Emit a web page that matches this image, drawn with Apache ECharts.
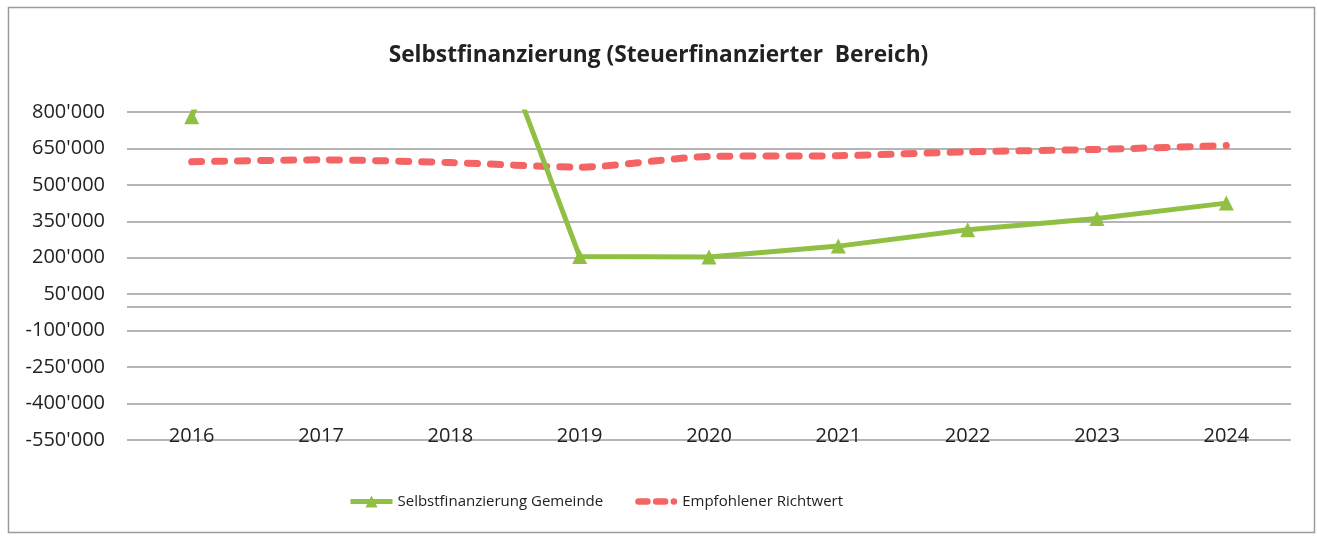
<!DOCTYPE html>
<html>
<head>
<meta charset="utf-8">
<script src="https://cdn.jsdelivr.net/npm/echarts@6/dist/echarts.min.js"></script>
<style>html,body{margin:0;padding:0;background:#fff}#c{width:1317px;height:537px}</style>
</head>
<body>
<div id="c"></div>
<script>
const years = ['2016','2017','2018','2019','2020','2021','2022','2023','2024'];
const gemeinde = [780000, 2100000, 1620000, 205000, 203000, 248000, 315000, 362000, 425000];
const richtwert = [595000, 603000, 592000, 573000, 617000, 620000, 636000, 646000, 662000];
const yTicks = [-550000, -400000, -250000, -100000, 50000, 200000, 350000, 500000, 650000, 800000];
const zeroLine = [0];

const fmt = v => String(v).replace(/\B(?=(\d{3})+(?!\d))/g, "'");
const FONT = 'Open Sans';
const dashIcon = 'path://M3,0h8a3,3 0 0 1 0,6h-8a3,3 0 0 1 0,-6z M19,0h8a3,3 0 0 1 0,6h-8a3,3 0 0 1 0,-6z M35,0a3,3 0 1 1 0,6a3,3 0 1 1 0,-6z';
const chart = echarts.init(document.getElementById('c'));
chart.setOption({
  animation: false,
  backgroundColor: '#fff',
  graphic: [{
    type: 'rect', left: 6, top: 5, shape: {width: 1306, height: 525},
    style: {fill: 'none', stroke: '#9a9a9a', lineWidth: 1.5}, silent: true
  }],
  title: {
    text: 'Selbstfinanzierung (Steuerfinanzierter  Bereich)',
    left: 'center', top: 39,
    textStyle: {fontFamily: FONT, fontSize: 22.7, fontWeight: 'bold', color: '#222'}
  },
  legend: {
    bottom: 23, left: 343, itemWidth: 42, itemHeight: 15, itemGap: 32, symbolKeepAspect: true,
    textStyle: {fontFamily: FONT, fontSize: 15, color: '#222'},
    data: [
      {name: 'Selbstfinanzierung Gemeinde', lineStyle: {width: 5}},
      {name: 'Empfohlener Richtwert', icon: dashIcon}
    ]
  },
  grid: {left: 127, right: 26, top: 112, bottom: 97, containLabel: false},
  xAxis: {
    type: 'category', data: years, boundaryGap: true,
    axisLine: {show: false}, axisTick: {show: false},
    axisLabel: {fontFamily: FONT, fontSize: 20, color: '#222', margin: -14, interval: 0}
  },
  yAxis: {
    type: 'value', min: -550000, max: 800000,
    axisLine: {show: false},
    axisTick: {show: false, customValues: yTicks},
    axisLabel: {customValues: yTicks, formatter: fmt, fontFamily: FONT, fontSize: 20, color: '#222', margin: 22},
    splitLine: {show: true, lineStyle: {color: '#9c9c9c', width: 1.5}}
  },
  series: [{
    name: 'Selbstfinanzierung Gemeinde', type: 'line', data: gemeinde,
    symbol: 'triangle', symbolSize: 15, clip: true,
    itemStyle: {color: '#8fc044'},
    lineStyle: {color: '#8fc044', width: 5},
    z: 3,
    markLine: {
      silent: true, symbol: 'none', label: {show: false},
      lineStyle: {color: '#9c9c9c', width: 1.5, type: 'solid'},
      data: zeroLine.map(v => ({yAxis: v}))
    }
  }, {
    name: 'Empfohlener Richtwert', type: 'line', data: richtwert,
    symbol: 'none', smooth: 0.25,
    itemStyle: {color: '#f46464'},
    lineStyle: {color: '#f46464', width: 7, type: [10, 13], cap: 'round'},
    z: 2
  }]
});
</script>
</body>
</html>
